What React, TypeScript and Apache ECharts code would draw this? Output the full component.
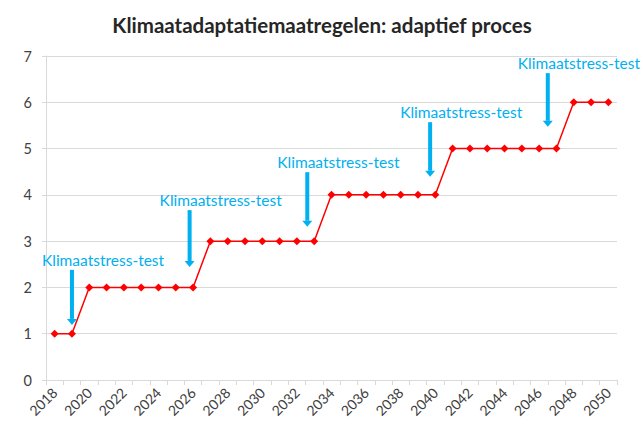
import React, { useEffect, useRef } from "react";
import * as echarts from "echarts";

const title = "Klimaatadaptatiemaatregelen: adaptief proces";
const years = [
  "2018", "2019", "2020", "2021", "2022", "2023", "2024", "2025", "2026", "2027",
  "2028", "2029", "2030", "2031", "2032", "2033", "2034", "2035", "2036", "2037",
  "2038", "2039", "2040", "2041", "2042", "2043", "2044", "2045", "2046", "2047",
  "2048", "2049", "2050",
];
const values = [
  1, 1, 2, 2, 2, 2, 2, 2, 2, 3,
  3, 3, 3, 3, 3, 3, 4, 4, 4, 4,
  4, 4, 4, 5, 5, 5, 5, 5, 5, 5,
  6, 6, 6,
];
// annotation arrows: [year position, top value, tip value]
const arrowYears = [2019.0, 2025.8, 2032.6, 2039.7, 2046.5];
const arrowTops = [2.38, 3.67, 4.49, 5.57, 6.63];
const arrowTips = [1.19, 2.44, 3.31, 4.39, 5.47];
const arrowLabels = [
  "Klimaatstress-test", "Klimaatstress-test", "Klimaatstress-test",
  "Klimaatstress-test", "Klimaatstress-test",
];

const BLUE = "#00b0f0";

export default function App() {
  const ref = useRef<HTMLDivElement>(null);
  useEffect(() => {
    if (!ref.current) return;
    const chart = echarts.init(ref.current, null, { renderer: "svg" });
    const arrowData = arrowYears.map((x, i) => [x, arrowTops[i], arrowTips[i]]);
    chart.setOption({
      animation: false,
      backgroundColor: "#ffffff",
      title: {
        text: title,
        left: "center",
        top: 9,
        textStyle: { fontFamily: "Lato", fontWeight: "bold", fontSize: 20.5, color: "#262626" },
      },
      grid: { left: 46, right: 27, top: 56, bottom: 57 },
      xAxis: [
        {
          type: "category",
          data: years,
          boundaryGap: true,
          axisLine: { show: true, lineStyle: { color: "#d9d9d9", width: 1 } },
          axisTick: { show: true, interval: 0, length: 5, lineStyle: { color: "#d9d9d9" } },
          axisLabel: {
            interval: 1,
            rotate: 45,
            margin: 10,
            color: "#404040",
            fontFamily: "Lato",
            fontSize: 14,
          },
          splitLine: { show: false },
        },
        {
          type: "value",
          min: 2017.5,
          max: 2050.5,
          show: false,
        },
      ],
      yAxis: {
        type: "value",
        min: 0,
        max: 7,
        interval: 1,
        axisLine: { show: true, lineStyle: { color: "#d9d9d9" } },
        axisTick: { show: true, length: 4, lineStyle: { color: "#d9d9d9" } },
        axisLabel: { color: "#404040", fontFamily: "Lato", fontSize: 14.5, margin: 14 },
        splitLine: { show: true, lineStyle: { color: "#d9d9d9", width: 1 } },
      },
      series: [
        {
          type: "line",
          data: values,
          xAxisIndex: 0,
          symbol: "diamond",
          symbolSize: 8,
          lineStyle: { color: "#ff0000", width: 1.5 },
          itemStyle: { color: "#ff0000" },
          z: 3,
        },
        {
          type: "custom",
          xAxisIndex: 1,
          yAxisIndex: 0,
          data: arrowData,
          z: 5,
          renderItem: (params: any, api: any) => {
            const x = api.value(0);
            const p1 = api.coord([x, api.value(1)]);
            const p2 = api.coord([x, api.value(2)]);
            const headH = 6;
            const headW = 5;
            return {
              type: "group",
              children: [
                {
                  type: "rect",
                  shape: { x: p1[0] - 2, y: p1[1], width: 4, height: p2[1] - p1[1] - headH },
                  style: { fill: BLUE },
                },
                {
                  type: "polygon",
                  shape: {
                    points: [
                      [p2[0] - headW, p2[1] - headH],
                      [p2[0] + headW, p2[1] - headH],
                      [p2[0], p2[1]],
                    ],
                  },
                  style: { fill: BLUE },
                },
                {
                  type: "text",
                  style: {
                    text: arrowLabels[params.dataIndex],
                    x: p1[0] - 30,
                    y: p1[1] - 10,
                    align: "left",
                    verticalAlign: "middle",
                    fill: BLUE,
                    fontFamily: "Lato",
                    fontSize: 15.5,
                  },
                },
              ],
            };
          },
        },
      ],
    });
    return () => chart.dispose();
  }, []);
  return (
    <div
      ref={ref}
      style={{ position: "fixed", left: 0, top: 0, width: 644, height: 437 }}
    />
  );
}
